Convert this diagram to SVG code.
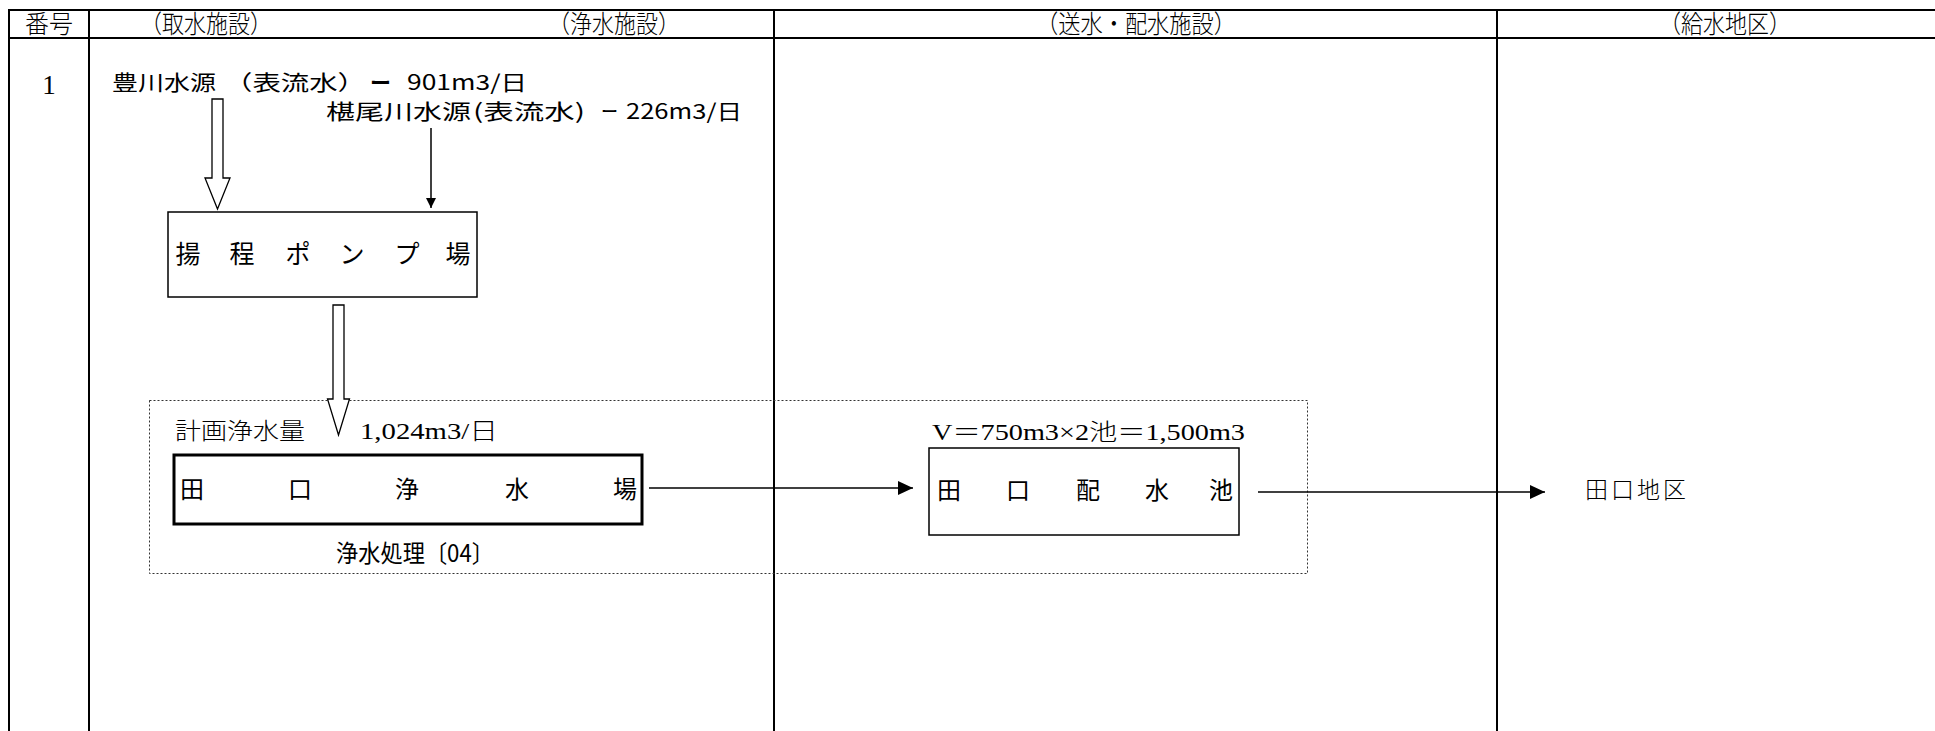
<svg xmlns="http://www.w3.org/2000/svg" width="1935" height="731" viewBox="0 0 1935 731">
<style>
.grid{stroke:#000;stroke-width:2;fill:none}
.hdr{font-family:"Liberation Serif","Noto Sans CJK JP",serif;font-size:25px;font-weight:300;fill:#000}
.ser{font-family:"Liberation Serif","Noto Sans CJK JP",serif;font-size:22px;font-weight:300;fill:#000}
.goth{font-family:"Noto Sans CJK JP","Liberation Sans",sans-serif;font-size:22px;fill:#000}
.box{fill:#fff;stroke:#000;stroke-width:1.5}
.thick{fill:#fff;stroke:#000;stroke-width:3}
.dot{fill:none;stroke:#333;stroke-width:1;stroke-dasharray:2 2}
.line{stroke:#000;stroke-width:1.5;fill:none}
.hollow{fill:#fff;stroke:#000;stroke-width:1.3}
</style>
<defs>
<marker id="ah" viewBox="0 0 10 10" refX="10" refY="5" markerWidth="10" markerHeight="10" markerUnits="userSpaceOnUse" orient="auto">
<path d="M0,0 L10,5 L0,10 Z" fill="#000"/>
</marker>
<marker id="ahb" viewBox="0 0 15 14" refX="15" refY="7" markerWidth="15" markerHeight="14" markerUnits="userSpaceOnUse" orient="auto">
<path d="M0,0 L15,7 L0,14 Z" fill="#000"/>
</marker>
</defs>
<rect width="1935" height="731" fill="#fff"/>
<g id="table">
<line class="grid" x1="9" y1="10" x2="1935" y2="10" stroke-width="2.5"/>
<line class="grid" x1="9" y1="38" x2="1935" y2="38"/>
<line class="grid" x1="9" y1="9" x2="9" y2="731" stroke-width="1.5"/>
<line class="grid" x1="89" y1="9" x2="89" y2="731"/>
<line class="grid" x1="774" y1="9" x2="774" y2="731"/>
<line class="grid" x1="1497" y1="9" x2="1497" y2="731"/>
<text class="hdr" x="25" y="33" textLength="48" lengthAdjust="spacingAndGlyphs">番号</text>
<text class="hdr" x="140" y="33" textLength="132" lengthAdjust="spacingAndGlyphs">（取水施設）</text>
<text class="hdr" x="548" y="33" textLength="132" lengthAdjust="spacingAndGlyphs">（浄水施設）</text>
<text class="hdr" x="1036" y="33" textLength="200" lengthAdjust="spacingAndGlyphs">（送水・配水施設）</text>
<text class="hdr" x="1659" y="33" textLength="132" lengthAdjust="spacingAndGlyphs">（給水地区）</text>
<text class="ser" x="49" y="94" text-anchor="middle" style="font-size:27px">1</text>
</g>
<g id="sources">
<text class="goth" y="90" style="font-size:21px"><tspan x="112" textLength="104" lengthAdjust="spacingAndGlyphs">豊川水源</tspan><tspan x="224" textLength="142" lengthAdjust="spacingAndGlyphs">（表流水）</tspan><tspan x="370" textLength="21" lengthAdjust="spacingAndGlyphs" font-weight="bold">ー</tspan><tspan x="407" textLength="120" lengthAdjust="spacingAndGlyphs">901m3/日</tspan></text>
<text class="goth" y="119" style="font-size:21px"><tspan x="326" textLength="145" lengthAdjust="spacingAndGlyphs">椹尾川水源</tspan><tspan x="473" textLength="112" lengthAdjust="spacingAndGlyphs">(表流水)</tspan><tspan x="601" textLength="17" lengthAdjust="spacingAndGlyphs">ー</tspan><tspan x="626" textLength="116" lengthAdjust="spacingAndGlyphs">226m3/日</tspan></text>
</g>
<g id="pump">
<rect class="box" x="168" y="212" width="309" height="85"/>
<g class="goth" style="font-size:25px" text-anchor="middle">
<text x="188" y="263">揚</text><text x="242" y="263">程</text><text x="298" y="263">ポ</text><text x="352" y="263">ン</text><text x="407" y="263">プ</text><text x="458" y="263">場</text>
</g>
</g>
<g id="purification-group">
<rect class="dot" x="149.5" y="400.5" width="1158" height="173"/>
<text class="ser" x="175" y="439" textLength="130" lengthAdjust="spacingAndGlyphs" style="font-size:23px">計画浄水量</text>
<text class="ser" x="360" y="439" textLength="138" lengthAdjust="spacingAndGlyphs" style="font-size:23px">1,024m3/日</text>
<text class="goth" x="336" y="562" textLength="158" lengthAdjust="spacingAndGlyphs" style="font-size:24px">浄水処理〔04〕</text>
</g>
<g id="taguchi-plant">
<rect class="thick" x="174" y="455" width="468" height="69"/>
<g class="goth" style="font-size:24px" text-anchor="middle">
<text x="192" y="498">田</text><text x="300" y="498">口</text><text x="407" y="498">浄</text><text x="517" y="498">水</text><text x="625" y="498">場</text>
</g>
</g>
<g id="taguchi-reservoir">
<text class="ser" x="932" y="440" textLength="313" lengthAdjust="spacingAndGlyphs" style="font-size:23px">V＝750m3×2池＝1,500m3</text>
<rect class="box" x="929" y="448" width="310" height="87"/>
<g class="goth" style="font-size:24px" text-anchor="middle">
<text x="949" y="499">田</text><text x="1018" y="499">口</text><text x="1088" y="499">配</text><text x="1157" y="499">水</text><text x="1221" y="499">池</text>
</g>
</g>
<g id="taguchi-district">
<text class="ser" x="1585" y="498" textLength="101" lengthAdjust="spacing" style="font-size:23px">田口地区</text>
</g>
<g id="connectors">
<path class="hollow" d="M212,99 L223,99 L223,178 L230,178 L217.5,209 L205,178 L212,178 Z"/>
<line class="line" x1="431" y1="128" x2="431" y2="208" marker-end="url(#ah)"/>
<path class="hollow" d="M333,305 L344,305 L344,399 L349.5,399 L338.5,435 L327.5,399 L333,399 Z"/>
<line class="line" x1="649" y1="488" x2="913" y2="488" marker-end="url(#ahb)"/>
<line class="line" x1="1258" y1="492" x2="1545" y2="492" marker-end="url(#ahb)"/>
</g>
</svg>
